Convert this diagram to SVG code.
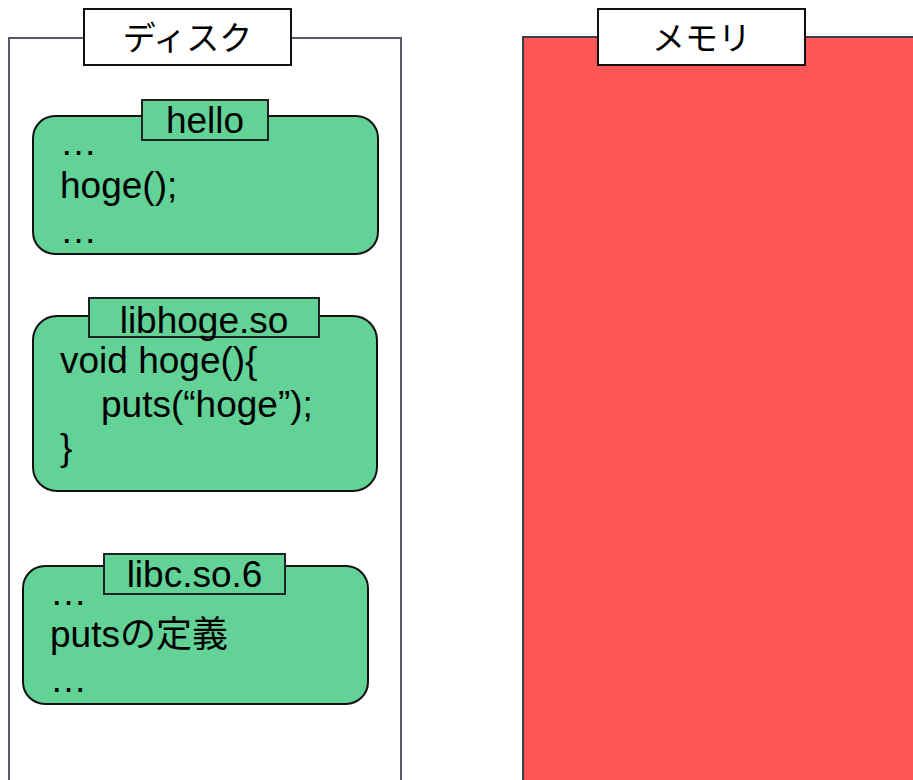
<svg xmlns="http://www.w3.org/2000/svg" width="913" height="780" viewBox="0 0 913 780">
  <style>
    .txt { font-family: "Liberation Sans", Arial, "Noto Sans CJK JP", sans-serif; font-size: 37px; fill: #000; }
    .jp { font-family: "Noto Sans CJK JP", "Liberation Sans", sans-serif; font-size: 33px; fill: #000; }
    .mid { text-anchor: middle; }
    .file { fill: #62D297; stroke: #111; stroke-width: 2; }
    .tag { fill: #62D297; stroke: #222; stroke-width: 2; }
    .title { fill: #fff; stroke: #111; stroke-width: 2; }
  </style>

  <!-- disk area -->
  <g id="disk">
    <path d="M9,790 V38 H401 V790" fill="#fff" stroke="#555a66" stroke-width="2"/>
    <rect class="title" x="84" y="9" width="207" height="56"/>
    <text class="jp mid" x="187.5" y="50">ディスク</text>
  </g>

  <!-- memory area -->
  <g id="memory">
    <rect x="523" y="37" width="400" height="760" fill="#FF5555" stroke="#3a3e4a" stroke-width="2"/>
    <rect class="title" x="598" y="9" width="207" height="56"/>
    <text class="jp mid" x="701.5" y="50">メモリ</text>
  </g>

  <!-- executable -->
  <g id="hello">
    <rect class="file" x="33" y="116" width="345" height="138" rx="22"/>
    <rect class="tag" x="142" y="100" width="126" height="40"/>
    <text class="txt mid" x="205" y="133">hello</text>
    <text class="txt" x="60" y="155">…</text>
    <text class="txt" x="60" y="198">hoge();</text>
    <text class="txt" x="60" y="243">…</text>
  </g>

  <!-- shared library -->
  <g id="libhoge">
    <rect class="file" x="33" y="316" width="344" height="175" rx="24"/>
    <rect class="tag" x="89" y="298" width="230" height="39"/>
    <text class="txt mid" x="204" y="333">libhoge.so</text>
    <text class="txt" x="60" y="373">void hoge(){</text>
    <text class="txt" x="101" y="417">puts(“hoge”);</text>
    <text class="txt" x="60" y="460">}</text>
  </g>

  <!-- C library -->
  <g id="libc">
    <rect class="file" x="23" y="566" width="345" height="138" rx="22"/>
    <rect class="tag" x="104" y="554" width="181" height="40"/>
    <text class="txt mid" x="194.5" y="587">libc.so.6</text>
    <text class="txt" x="50" y="605">…</text>
    <text class="txt" x="50" y="647">puts<tspan font-family="Noto Sans CJK JP, sans-serif" font-size="36">の定義</tspan></text>
    <text class="txt" x="50" y="692">…</text>
  </g>

  <g id="connectors"/>
</svg>
